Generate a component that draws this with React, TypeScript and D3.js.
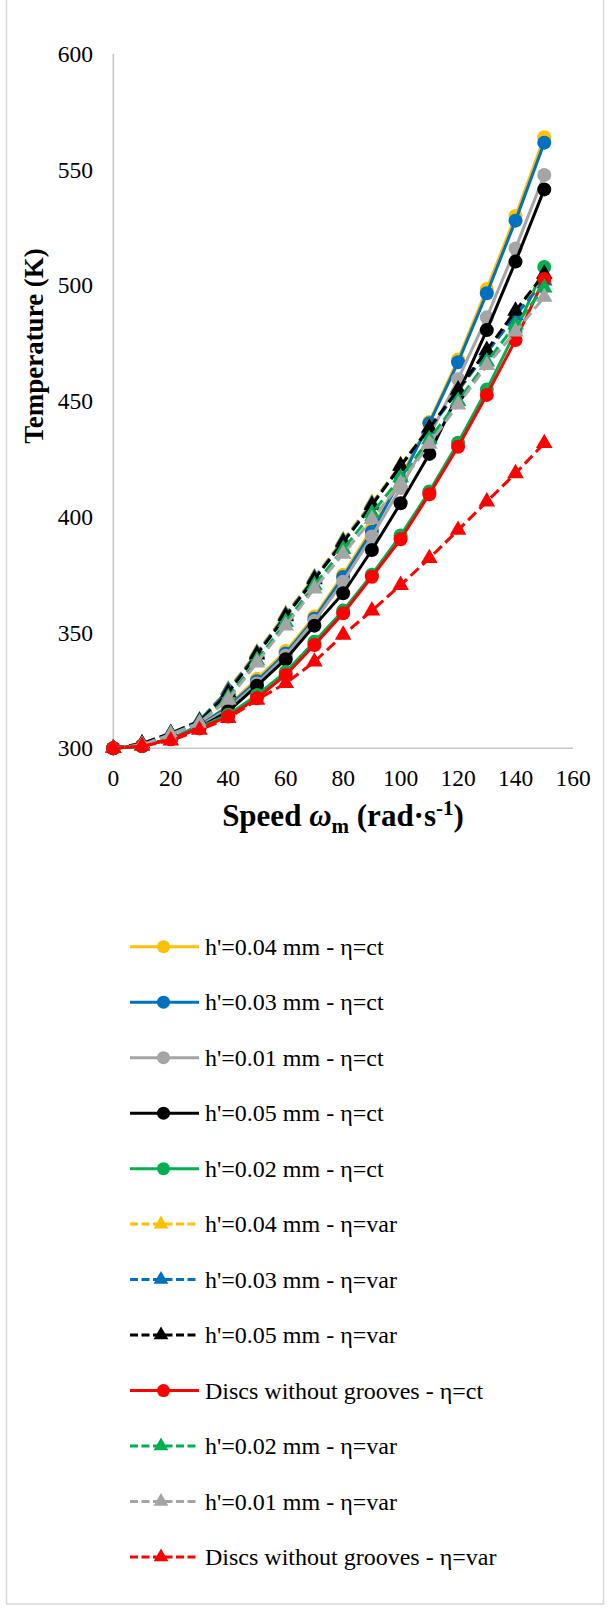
import React from "react";
import * as d3 from "d3";

const speeds = [0, 10, 20, 30, 40, 50, 60, 70, 80, 90, 100, 110, 120, 130, 140, 150];

const yellowCt = [300, 301, 304, 310, 318.5, 330, 342, 357, 375, 395, 417, 441, 468, 498.5, 530, 564];
const blueCt = [300, 301, 304, 310, 318, 329, 341, 356, 374, 393.6, 416, 440.4, 466.8, 496.6, 528, 561.7];
const grayCt = [300, 301, 304, 309.5, 317, 328, 340, 355, 372, 391.5, 412.5, 435, 459.5, 486.2, 516, 547.7];
const blackCt = [300, 301, 304, 309, 316, 327, 338.5, 353, 367, 385.7, 405.9, 427.2, 453, 480.7, 510.3, 541.5];
const greenCt = [300, 301, 304, 309, 314.5, 323, 333, 346, 359.5, 375, 392, 411, 432, 455, 480, 508];
const yellowVar = [300, 302, 306.5, 312, 325.5, 341.5, 358, 374, 390, 406, 422.5, 438.5, 454.5, 471, 487.5, 503];
const blueVar = [300, 302, 306.5, 312, 325, 341, 357.5, 373.5, 389.5, 405.5, 422, 438, 454.5, 471, 487, 502];
const blackVar = [300, 302, 306.5, 311.5, 324, 340.5, 357, 373, 389, 405, 422, 438.5, 455, 472, 489, 505];
const redCt = [300, 301, 303.9, 308.6, 313.7, 321.6, 331.7, 344.6, 358.3, 374.1, 390.3, 409.8, 430.3, 452.7, 476.4, 502.8];
const greenVar = [300, 301.5, 306, 311, 322, 338, 354.5, 370.5, 386, 401.5, 417, 433.5, 450, 467, 483, 499];
const grayVar = [300, 301.5, 306, 311, 321, 337, 353, 369, 384, 399, 414.5, 431.5, 448.5, 465.5, 480, 495];
const redVar = [300, 301, 303.3, 307.9, 313, 320.9, 328.1, 337.4, 349, 359.5, 370.5, 382.1, 394.3, 406.6, 418.8, 431.8];

const xTicks = [0, 20, 40, 60, 80, 100, 120, 140, 160];
const yTicks = [300, 350, 400, 450, 500, 550, 600];

type Series = { name: string; values: number[]; color: string; dashed: boolean; marker: "circle" | "triangle" };

const series: Series[] = [
  { name: "h'=0.04 mm - η=ct", values: yellowCt, color: "#FFC000", dashed: false, marker: "circle" },
  { name: "h'=0.03 mm - η=ct", values: blueCt, color: "#0070C0", dashed: false, marker: "circle" },
  { name: "h'=0.01 mm - η=ct", values: grayCt, color: "#A5A5A5", dashed: false, marker: "circle" },
  { name: "h'=0.05 mm - η=ct", values: blackCt, color: "#000000", dashed: false, marker: "circle" },
  { name: "h'=0.02 mm - η=ct", values: greenCt, color: "#00B050", dashed: false, marker: "circle" },
  { name: "h'=0.04 mm - η=var", values: yellowVar, color: "#FFC000", dashed: true, marker: "triangle" },
  { name: "h'=0.03 mm - η=var", values: blueVar, color: "#0070C0", dashed: true, marker: "triangle" },
  { name: "h'=0.05 mm - η=var", values: blackVar, color: "#000000", dashed: true, marker: "triangle" },
  { name: "Discs without grooves - η=ct", values: redCt, color: "#FF0000", dashed: false, marker: "circle" },
  { name: "h'=0.02 mm - η=var", values: greenVar, color: "#00B050", dashed: true, marker: "triangle" },
  { name: "h'=0.01 mm - η=var", values: grayVar, color: "#A5A5A5", dashed: true, marker: "triangle" },
  { name: "Discs without grooves - η=var", values: redVar, color: "#FF0000", dashed: true, marker: "triangle" },
];

const FONT = '"Liberation Serif", Tinos, "DejaVu Serif", "Noto Serif", serif';

export default function App() {
  React.useEffect(() => {
    document.body.style.margin = "0";
  }, []);
  const x = d3.scaleLinear().domain([0, 160]).range([113.3, 573]);
  const y = d3.scaleLinear().domain([300, 600]).range([748.3, 54]);
  const line = d3
    .line<number>()
    .x((_, i) => x(speeds[i]))
    .y((d) => y(d));
  const tri = d3.symbol().type(d3.symbolTriangle).size(120)();
  const triLeg = d3.symbol().type(d3.symbolTriangle).size(95)();

  const legendY = d3.scaleLinear().domain([0, 11]).range([946.7, 1557]);

  return (
    <svg
      width={610}
      height={1609}
      style={{ position: "absolute", left: 0, top: 0, background: "#fff" }}
    >
      <style>{`text { font-family: ${FONT}; }`}</style>
      <rect x={0} y={0} width={610} height={1609} fill="#fff" />
      <rect x={6.5} y={-2} width={597} height={1606} fill="none" stroke="#D9D9D9" strokeWidth={1.5} />

      {/* axes */}
      <line x1={x(0)} x2={x(0)} y1={y(600)} y2={y(300)} stroke="#C8C8C8" strokeWidth={1.6} />
      <line x1={x(0)} x2={x(160)} y1={y(300)} y2={y(300)} stroke="#C8C8C8" strokeWidth={1.6} />

      {yTicks.map((t) => (
        <text key={t} x={93} y={y(t)} dy="0.34em" textAnchor="end" fontSize={23.5} fill="#000">
          {t}
        </text>
      ))}
      {xTicks.map((t) => (
        <text key={t} x={x(t)} y={786} textAnchor="middle" fontSize={23.5} fill="#000">
          {t}
        </text>
      ))}

      <text
        transform={`translate(43,346) rotate(-90)`}
        textAnchor="middle"
        fontSize={27}
        fontWeight="bold"
        fill="#000"
      >
        Temperature (K)
      </text>

      <text x={343} y={826} textAnchor="middle" fontSize={31} fontWeight="bold" fill="#000">
        <tspan>Speed </tspan>
        <tspan fontStyle="italic">ω</tspan>
        <tspan fontSize={21} dy={7}>m</tspan>
        <tspan dy={-7}> (rad·s</tspan>
        <tspan fontSize={21} dy={-11}>-1</tspan>
        <tspan dy={11}>)</tspan>
      </text>

      {/* series */}
      {series.map((s) => (
        <g key={s.name}>
          <path
            d={line(s.values) || ""}
            fill="none"
            stroke={s.color}
            strokeWidth={3}
            strokeDasharray={s.dashed ? "11,5" : undefined}
            strokeLinejoin="round"
          />
          {s.values.map((v, i) =>
            s.marker === "circle" ? (
              <circle key={i} cx={x(speeds[i])} cy={y(v)} r={7} fill={s.color} />
            ) : (
              <path key={i} d={tri || ""} transform={`translate(${x(speeds[i])},${y(v)})`} fill={s.color} />
            )
          )}
        </g>
      ))}

      {/* legend */}
      {series.map((s, i) => {
        const cy = legendY(i);
        return (
          <g key={s.name}>
            <line
              x1={130}
              x2={199}
              y1={cy}
              y2={cy}
              stroke={s.color}
              strokeWidth={3}
              strokeDasharray={s.dashed ? "8,3.5" : undefined}
            />
            {s.marker === "circle" ? (
              <circle cx={163.5} cy={cy} r={6.5} fill={s.color} />
            ) : (
              <path d={triLeg || ""} transform={`translate(161,${cy})`} fill={s.color} />
            )}
            <text x={205} y={cy + 8} fontSize={24} fill="#000">
              {s.name}
            </text>
          </g>
        );
      })}
    </svg>
  );
}
